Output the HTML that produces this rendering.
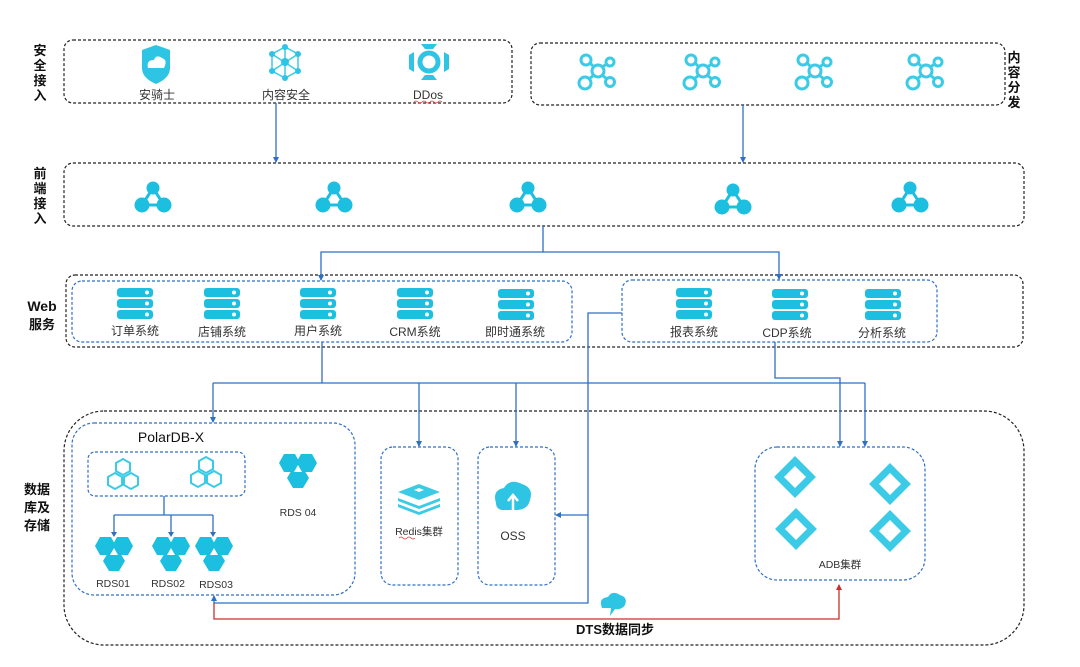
<!DOCTYPE html>
<html><head><meta charset="utf-8"><style>
html,body{margin:0;padding:0;background:#fff;}
svg{display:block;font-family:"Liberation Sans","Noto Sans CJK SC",sans-serif;}
</style></head><body>
<svg width="1080" height="667" viewBox="0 0 1080 667" xmlns="http://www.w3.org/2000/svg">
<defs>
  <marker id="ab" markerWidth="6" markerHeight="6" refX="5" refY="3" orient="auto" markerUnits="userSpaceOnUse"><path d="M0,0 L6,3 L0,6 z" fill="#2f6fc4"/></marker>
  <marker id="ar" markerWidth="6" markerHeight="6" refX="5" refY="3" orient="auto" markerUnits="userSpaceOnUse"><path d="M0,0 L6,3 L0,6 z" fill="#c9302c"/></marker>
  <g id="server">
    <rect x="-18" y="-16" width="36" height="9" rx="3" fill="#1cbfdf"/>
    <rect x="-18" y="-5" width="36" height="9" rx="3" fill="#1cbfdf"/>
    <rect x="-18" y="6" width="36" height="9" rx="3" fill="#1cbfdf"/>
    <circle cx="12" cy="-11.5" r="2" fill="#fff"/><circle cx="12" cy="-0.5" r="2" fill="#fff"/><circle cx="12" cy="10.5" r="2" fill="#fff"/>
  </g>
  <g id="tri">
    <path d="M0,-9 L-11,8 L11,8 Z" fill="none" stroke="#1cbfdf" stroke-width="3"/>
    <circle cx="0" cy="-9" r="6.5" fill="#1cbfdf"/><circle cx="-11" cy="8" r="7.5" fill="#1cbfdf"/><circle cx="11" cy="8" r="7.5" fill="#1cbfdf"/>
  </g>
  <g id="cdn" fill="none" stroke="#3ccbe6" stroke-width="3">
    <circle cx="0" cy="0" r="6"/><circle cx="-12" cy="-11" r="5"/><circle cx="12" cy="-9" r="4"/><circle cx="-13" cy="12" r="6"/><circle cx="12" cy="11" r="4.5"/>
    <path d="M-4,-4 L-8,-8 M4,-4 L9,-7 M-4,4 L-9,8 M4,4 L9,8"/>
  </g>
  <g id="rds" fill="#1cbfdf">
    <path d="M-19,-9 L-14,-18 L-3,-18 L2,-9 L-3,0 L-14,0 Z"/>
    <path d="M-2,-9 L3,-18 L14,-18 L19,-9 L14,0 L3,0 Z"/>
    <path d="M-11,6 L-5,-4 L5,-4 L11,6 L5,16 L-5,16 Z"/>
    <path d="M0,-7 L-4,0 L4,0 Z" fill="#fff"/>
  </g>
  <g id="hexo" fill="none" stroke="#3ccbe6" stroke-width="2">
    <path d="M0,-18 L7,-14 L7,-6 L0,-2 L-7,-6 L-7,-14 Z"/>
    <path d="M-8,-4 L-1,0 L-1,8 L-8,12 L-15,8 L-15,0 Z"/>
    <path d="M8,-4 L15,0 L15,8 L8,12 L1,8 L1,0 Z"/>
  </g>
  <g id="adb" fill="none" stroke="#3ccbe6" stroke-width="7">
    <path d="M0,-16 L16,0 L0,16 L-16,0 Z"/>
  </g>
</defs>

<g font-weight="bold" font-size="13" fill="#111" text-anchor="middle">
  <text x="40" y="55">安</text><text x="40" y="70">全</text><text x="40" y="85">接</text><text x="40" y="100">入</text>
  <text x="40" y="178">前</text><text x="40" y="193">端</text><text x="40" y="208">接</text><text x="40" y="223">入</text>
  <text x="1014" y="62">内</text><text x="1014" y="77">容</text><text x="1014" y="92">分</text><text x="1014" y="107">发</text>
  <text x="42" y="311" font-size="14">Web</text><text x="42" y="329">服务</text>
  <text x="37" y="494">数据</text><text x="37" y="512">库及</text><text x="37" y="530">存储</text>
</g>

<g fill="none" stroke="#222" stroke-width="1.2" stroke-dasharray="3,2">
  <rect x="64" y="40" width="448" height="63" rx="9"/>
  <rect x="531" y="43" width="474" height="62" rx="9"/>
  <rect x="64" y="163" width="960" height="63" rx="9"/>
  <rect x="66" y="275" width="957" height="72" rx="9"/>
  <rect x="64" y="411" width="960" height="234" rx="40"/>
</g>
<g fill="none" stroke="#2f6fc4" stroke-width="1.2" stroke-dasharray="3,2">
  <rect x="72" y="281" width="500" height="61" rx="10"/>
  <rect x="622" y="280" width="315" height="62" rx="10"/>
  <rect x="72" y="423" width="283" height="172" rx="22"/>
  <rect x="88" y="452" width="157" height="44" rx="7"/>
  <rect x="381" y="447" width="77" height="138" rx="12"/>
  <rect x="478" y="447" width="77" height="138" rx="12"/>
  <rect x="755" y="447" width="170" height="133" rx="22"/>
</g>

<path d="M142,50 L156,45 L170,50 L170,68 Q170,78 156,84 Q142,78 142,68 Z" fill="#2ec4e4"/>
<path d="M148,68 Q146,60 154,60 Q156,54 162,58 Q168,60 164,68 Z" fill="#fff"/>
<g stroke="#3ccbe6" stroke-width="1.5" fill="none"><path d="M285,47 L298,54 L298,71 L285,78 L272,71 L272,54 Z"/><path d="M285,47 L285,78 M272,54 L298,71 M298,54 L272,71"/></g>
<g fill="#2ec4e4"><circle cx="285" cy="47" r="3"/><circle cx="298" cy="54" r="3"/><circle cx="298" cy="71" r="3"/><circle cx="285" cy="78" r="3"/><circle cx="272" cy="71" r="3"/><circle cx="272" cy="54" r="3"/><circle cx="285" cy="62" r="4"/></g>
<circle cx="429" cy="62" r="9" fill="none" stroke="#2ec4e4" stroke-width="5"/>
<g fill="#2ec4e4"><path d="M421,44 L437,44 L433,49 L425,49 Z"/><path d="M421,80 L437,80 L433,75 L425,75 Z"/><path d="M409,55 L414,52 L414,72 L409,69 Z"/><path d="M449,55 L444,52 L444,72 L449,69 Z"/></g>
<g font-size="12" fill="#333" text-anchor="middle">
  <text x="157" y="99">安骑士</text><text x="286" y="99">内容安全</text><text x="428" y="99">DDos</text>
</g>
<path d="M414,102 q2,-2 4,0 t4,0 t4,0 t4,0 t4,0 t4,0 t4,0" stroke="#e03b3b" fill="none" stroke-width="0.8"/>

<use href="#cdn" x="598" y="71"/><use href="#cdn" x="703" y="71"/><use href="#cdn" x="815" y="71"/><use href="#cdn" x="926" y="71"/>

<use href="#tri" x="153" y="197"/><use href="#tri" x="334" y="197"/><use href="#tri" x="528" y="197"/><use href="#tri" x="733" y="199"/><use href="#tri" x="910" y="197"/>

<use href="#server" x="135" y="304"/><use href="#server" x="222" y="304"/><use href="#server" x="318" y="304"/><use href="#server" x="415" y="304"/><use href="#server" x="516" y="305"/>
<use href="#server" x="694" y="304"/><use href="#server" x="790" y="305"/><use href="#server" x="883" y="305"/>
<g font-size="12" fill="#333" text-anchor="middle">
  <text x="135" y="335">订单系统</text><text x="222" y="336">店铺系统</text><text x="318" y="335">用户系统</text><text x="415" y="336">CRM系统</text><text x="515" y="336">即时通系统</text>
  <text x="694" y="336">报表系统</text><text x="787" y="337">CDP系统</text><text x="882" y="337">分析系统</text>
</g>

<text x="171" y="442" font-size="14" fill="#111" text-anchor="middle">PolarDB-X</text>
<use href="#hexo" x="123" y="477"/><use href="#hexo" x="206" y="475"/>
<use href="#rds" x="298" y="472"/>
<use href="#rds" x="114" y="555"/><use href="#rds" x="171" y="555"/><use href="#rds" x="214" y="555"/>
<g font-size="10.5" fill="#333" text-anchor="middle">
  <text x="298" y="516">RDS  04</text>
  <text x="113" y="587">RDS01</text><text x="168" y="587">RDS02</text><text x="216" y="588">RDS03</text>
</g>
<g fill="#3ccbe6">
  <path d="M398,492 L419,484 L440,492 L419,500 Z"/>
  <path d="M398,498 L419,506 L440,498 L440,501 L419,509 L398,501 Z"/>
  <path d="M398,504 L419,512 L440,504 L440,507 L419,515 L398,507 Z"/>
</g>
<path d="M414,490 L419,488 L424,490 L419,492 Z" fill="#fff"/>
<text x="419" y="535" font-size="10.5" fill="#333" text-anchor="middle">Redis集群</text>
<path d="M399,538 q2,-2 4,0 t4,0 t4,0 t4,0" stroke="#e03b3b" fill="none" stroke-width="0.8"/>
<path d="M496,503 Q492,490 504,488 Q510,478 522,484 Q534,488 530,500 Q528,510 516,510 L502,510 Q496,509 496,503 Z" fill="#2ec4e4"/>
<path d="M513,510 L513,497 M508,501 L513,495 L518,501" stroke="#fff" stroke-width="2.5" fill="none"/>
<text x="513" y="540" font-size="12" fill="#333" text-anchor="middle">OSS</text>
<use href="#adb" x="795" y="477"/><use href="#adb" x="890" y="484"/><use href="#adb" x="796" y="529"/><use href="#adb" x="890" y="531"/>
<text x="840" y="568" font-size="10.5" fill="#333" text-anchor="middle">ADB集群</text>

<g stroke="#2f6fc4" stroke-width="1.3" fill="none">
  <path d="M276,103 V162" marker-end="url(#ab)"/>
  <path d="M743,105 V162" marker-end="url(#ab)"/>
  <path d="M543,226 V252 H321 V280" marker-end="url(#ab)"/>
  <path d="M543,252 H779 V279" marker-end="url(#ab)"/>
  <path d="M322,342 V383"/>
  <path d="M213,383 H865"/>
  <path d="M213,383 V422" marker-end="url(#ab)"/>
  <path d="M419,383 V446" marker-end="url(#ab)"/>
  <path d="M516,383 V446" marker-end="url(#ab)"/>
  <path d="M775,342 V378 H840 V446" marker-end="url(#ab)"/>
  <path d="M865,383 V446" marker-end="url(#ab)"/>
  <path d="M622,313 H588 V603 H214 V596" marker-end="url(#ab)"/>
  <path d="M588,515 H556" marker-end="url(#ab)"/>
  <path d="M164,496 V515 M114,515 H213 M114,515 V533 M171,515 V533 M213,515 V533" />
</g>
<g fill="#2f6fc4"><path d="M111,532 L117,532 L114,537 Z"/><path d="M168,532 L174,532 L171,537 Z"/><path d="M210,532 L216,532 L213,537 Z"/></g>
<path d="M214,603 V619 H839 V585" stroke="#c9302c" stroke-width="1.3" fill="none" marker-end="url(#ar)"/>

<path d="M602,608 Q598,598 608,597 Q612,590 620,595 Q628,597 625,605 Q622,610 615,609 L610,616 L611,608 Z" fill="#2ec4e4"/>
<text x="615" y="634" font-size="13" font-weight="bold" fill="#111" text-anchor="middle">DTS数据同步</text>
</svg>
</body></html>
